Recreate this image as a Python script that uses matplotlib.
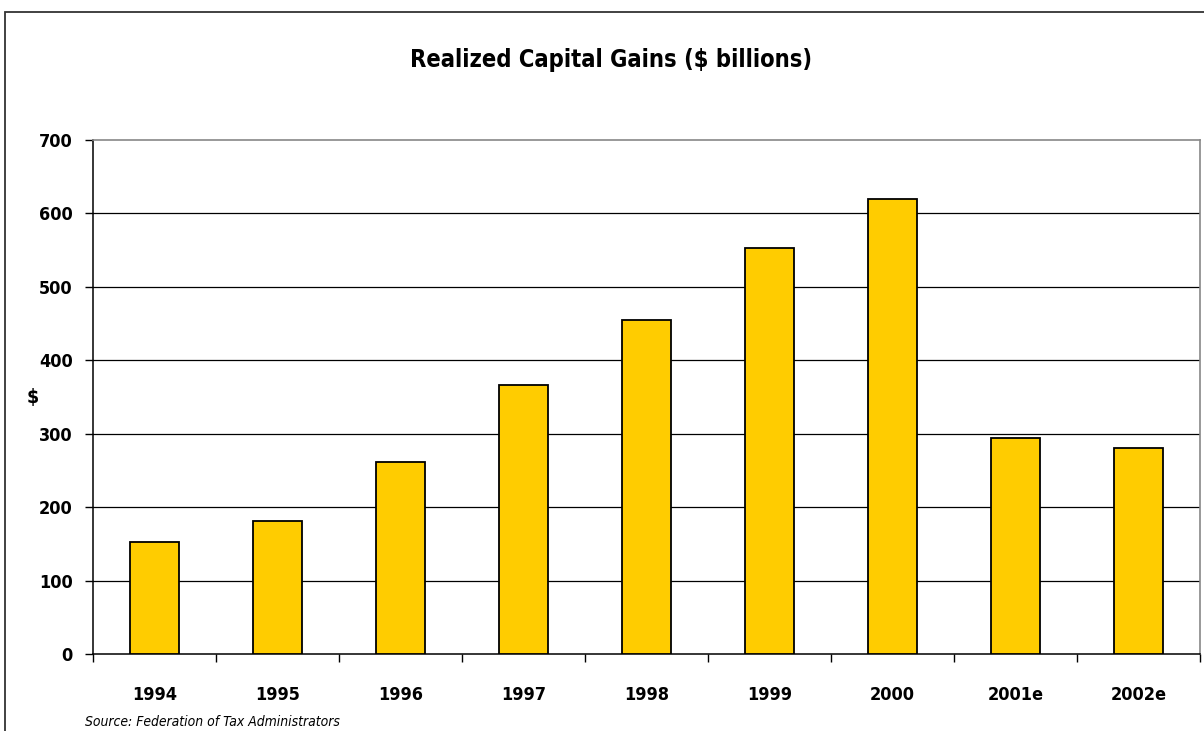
import matplotlib

matplotlib.use("Agg")
import matplotlib.pyplot as plt
from matplotlib.patches import Rectangle
from matplotlib.ticker import FixedLocator, NullFormatter

years = ["1994", "1995", "1996", "1997", "1998", "1999", "2000", "2001e", "2002e"]
gains = [152, 181, 261, 366, 455, 553, 620, 294, 281]
y_ticks = [0, 100, 200, 300, 400, 500, 600, 700]

plt.rcParams["font.family"] = ["DejaVu Sans Condensed", "Liberation Sans Narrow", "DejaVu Sans"]
plt.rcParams["font.stretch"] = "condensed"

W, H = 1204, 731
fig = plt.figure(figsize=(W / 100, H / 100), dpi=100)
fig.patch.set_facecolor("white")

# outer frame: only left and top edges fall inside the canvas
fig.patches.append(Rectangle((4.5 / W, -0.05), 1.2, (H - 12.5) / H + 0.05,
                             transform=fig.transFigure, fill=False,
                             edgecolor="#333333", linewidth=1.3))

ax = fig.add_axes([93 / W, 1 - 654 / H, (1200 - 93) / W, (654 - 140) / H])
x = list(range(len(years)))
ax.bar(x, gains, width=0.4, color="#FFCC00", edgecolor="black", linewidth=1.3, zorder=3)

ax.set_xlim(-0.5, len(years) - 0.5)
ax.set_ylim(0, 700)
ax.set_yticks(y_ticks)
ax.set_yticklabels([str(v) for v in y_ticks], fontsize=13, fontweight="bold")
for v in y_ticks[1:-1]:
    ax.axhline(v, color="black", linewidth=0.9, zorder=1)

ax.set_xticks(x)
ax.set_xticklabels(years, fontsize=13, fontweight="bold")
ax.tick_params(axis="x", which="major", length=0, pad=23)
ax.xaxis.set_minor_locator(FixedLocator([i - 0.5 for i in range(len(years) + 1)]))
ax.xaxis.set_minor_formatter(NullFormatter())
ax.tick_params(axis="x", which="minor", length=6, width=1, direction="out")
ax.tick_params(axis="y", length=6, width=1, direction="out", pad=8.5)

for side in ("left", "bottom"):
    ax.spines[side].set_color("black")
    ax.spines[side].set_linewidth(1.1)
for side in ("top", "right"):
    ax.spines[side].set_color("#888888")
    ax.spines[side].set_linewidth(1.2)

fig.text(611 / W, 1 - 60 / H, "Realized Capital Gains ($ billions)",
         ha="center", va="center", fontsize=17, fontweight="bold")
fig.text(33 / W, 1 - 398 / H, "$", ha="center", va="center",
         fontsize=14, fontweight="bold")
fig.text(85 / W, 1 - 722 / H, "Source: Federation of Tax Administrators",
         ha="left", va="center", fontsize=10, style="italic")

fig.savefig("out.png", dpi=100, facecolor="white")
